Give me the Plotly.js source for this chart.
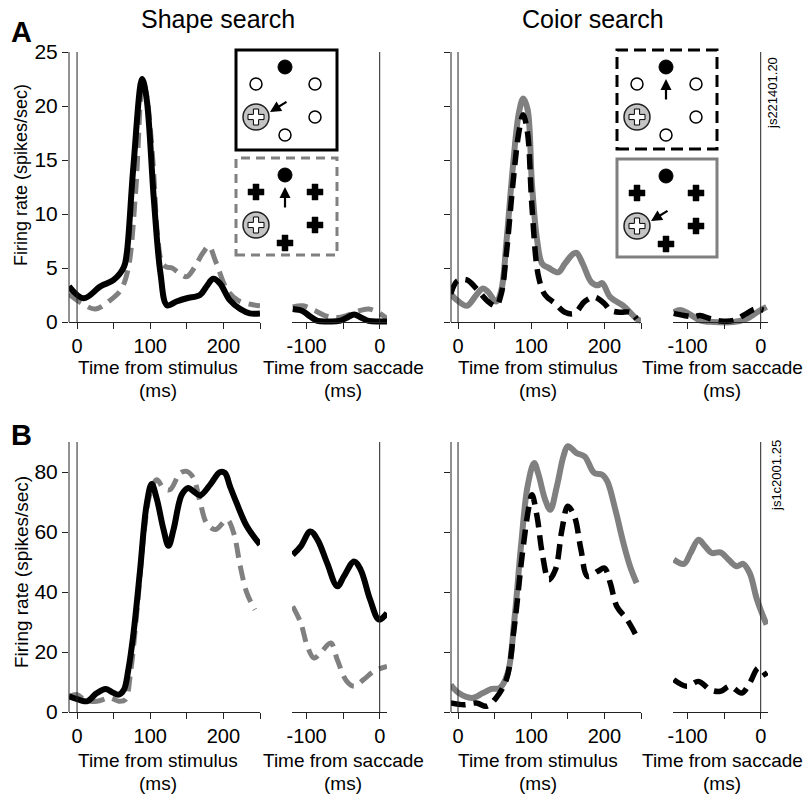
<!DOCTYPE html>
<html><head><meta charset="utf-8">
<script src="https://cdn.plot.ly/plotly-3.0.1.min.js"></script>
<style>body{margin:0;background:#fff} #chart{width:808px;height:796px}</style>
</head><body><div id="chart"></div>
<script>
// ---------------- DATA ----------------
// Row A, Shape search, aligned on stimulus
const aShapeStimT_solid = [-11, 9, 32, 50, 64, 68, 77, 89, 95, 105, 114, 123, 136, 150, 168, 177, 186, 195, 209, 223, 236, 250];
const aShapeStimV_solid = [3.3, 2.2, 3.3, 3.9, 5.1, 6.4, 14.4, 22.5, 20.7, 11.3, 4.5, 1.55, 1.9, 2.2, 2.5, 3.3, 4.0, 3.6, 2.0, 1.2, 0.8, 0.8];
const aShapeStimT_dash = [-11, 5, 25, 45, 60, 70, 80, 90, 95, 100, 105, 110, 116, 122, 130, 140, 150, 160, 172, 180, 190, 205, 220, 240, 250];
const aShapeStimV_dash = [2.6, 1.8, 1.2, 2.0, 3.0, 5.0, 12, 22.3, 21, 18, 13.5, 8, 5.5, 5.1, 5.0, 4.5, 4.2, 5.0, 6.4, 7.0, 5.5, 3.0, 2.0, 1.6, 1.5];
// Row A, Shape search, aligned on saccade
const aShapeSacT_solid = [-119, -105, -95, -85, -70, -55, -45, -35, -25, -15, 0, 10];
const aShapeSacV_solid = [1.2, 1.0, 0.5, 0.1, 0.05, 0.1, 0.4, 0.7, 0.4, 0.1, 0.05, 0.05];
const aShapeSacT_dash = [-119, -105, -90, -75, -60, -45, -30, -15, 0, 10];
const aShapeSacV_dash = [1.4, 1.5, 1.1, 0.6, 0.4, 0.6, 1.0, 1.2, 0.8, 0.3];
// Row A, Color search, aligned on stimulus
const aColorStimT_solid = [-10, -1, 12, 25, 34, 41, 52, 59, 66, 75, 83, 89, 95, 101, 108, 115, 124, 137, 146, 157, 162, 171, 182, 191, 197, 208, 226, 244, 250];
const aColorStimV_solid = [2.6, 2.0, 1.5, 2.5, 3.1, 2.8, 1.9, 2.9, 7.3, 14.4, 19.3, 20.7, 19.7, 12.8, 7.6, 5.4, 5.0, 4.6, 5.4, 6.3, 6.4, 5.3, 3.7, 3.4, 3.6, 2.3, 1.5, 0.3, 0.1];
const aColorStimT_dash = [-10, -1, 12, 25, 41, 52, 59, 66, 75, 83, 89, 95, 101, 110, 119, 133, 146, 159, 173, 186, 200, 208, 222, 235, 244];
const aColorStimV_dash = [2.6, 3.8, 3.9, 3.1, 1.9, 1.5, 2.6, 6.3, 12.8, 17.5, 19.2, 17.5, 10.7, 4.2, 2.5, 1.7, 0.9, 0.8, 1.9, 2.3, 1.7, 1.1, 0.9, 0.9, 0.3];
// Row A, Color search, aligned on saccade
const aColorSacT_solid = [-119, -110, -99, -83, -65, -37, -19, -5, 8];
const aColorSacV_solid = [0.9, 1.1, 0.8, 0.15, 0, 0, 0.3, 0.9, 1.4];
const aColorSacT_dash = [-119, -105, -92, -83, -69, -55, -37, -19, -8, 4];
const aColorSacV_dash = [0.8, 0.6, 0.5, 0.6, 0.3, 0.1, 0.15, 0.8, 1.2, 1.1];

// Row B, Shape search, aligned on stimulus
const bShapeStimT_solid = [-11, 5, 14, 27, 39, 48, 57, 64, 70, 77, 86, 95, 102, 109, 118, 125, 132, 143, 152, 159, 168, 182, 195, 202, 209, 218, 232, 250];
const bShapeStimV_solid = [5.2, 3.9, 3.6, 6.3, 7.7, 6.6, 5.8, 7.4, 14, 26, 47, 69, 76, 71, 61, 55.4, 61, 72.4, 74.7, 73.6, 72.2, 75.8, 79.9, 79.7, 75.2, 69.7, 61.9, 55.8];
const bShapeStimT_dash = [-11, 0, 11, 27, 45, 57, 66, 73, 82, 91, 100, 109, 118, 127, 141, 150, 159, 168, 177, 189, 205, 214, 223, 232, 243];
const bShapeStimV_dash = [5.2, 5.8, 3.9, 3.6, 4.7, 3.6, 4.1, 13, 34, 58.6, 73, 77.4, 74.7, 74.1, 79.7, 80.2, 78, 70.2, 63, 60.8, 64.1, 59.7, 48.6, 39.7, 34.1];
// Row B, Shape search, aligned on saccade
const bShapeSacT_solid = [-119, -108, -95, -85, -72, -58, -49, -35, -26, -13, -1, 10];
const bShapeSacV_solid = [52.4, 55.2, 60.2, 57.4, 49.7, 41.9, 45.2, 50.2, 47.4, 37.4, 30.8, 33];
const bShapeSacT_dash = [-119, -108, -99, -90, -81, -67, -58, -45, -35, -22, -8, 10];
const bShapeSacV_dash = [35.2, 29.7, 21.9, 18, 19.7, 23, 17.4, 10.2, 8.6, 10.8, 13.6, 15.2];
// Row B, Color search, aligned on stimulus
const bColorStimT_solid = [-10, 1, 19, 34, 46, 57, 68, 77, 86, 95, 104, 110, 119, 126, 135, 144, 150, 162, 173, 186, 197, 204, 215, 226, 235, 244];
const bColorStimV_solid = [9.1, 6.3, 4.7, 6.3, 7.7, 8, 13, 30.8, 55.2, 75.2, 83, 79.1, 70.8, 67.4, 75.2, 85.2, 88.6, 86.3, 85.2, 79.7, 79.1, 76.9, 67.4, 56.3, 48.6, 43];
const bColorStimT_dash = [-10, 8, 25, 39, 52, 66, 77, 88, 97, 101, 108, 115, 124, 133, 142, 150, 159, 168, 177, 191, 200, 208, 217, 231, 244];
const bColorStimV_dash = [3, 2.4, 3, 1.9, 4.7, 10.8, 28.6, 53, 68.6, 72.4, 65.2, 53, 44.1, 47.4, 60.8, 68.6, 65.2, 54.1, 45.2, 46.9, 48, 43, 35.2, 30.8, 25.2];
// Row B, Color search, aligned on saccade
const bColorSacT_solid = [-119, -105, -96, -85, -76, -67, -55, -44, -33, -24, -15, -5, 8];
const bColorSacV_solid = [50.8, 49.4, 53, 57.4, 55.2, 53, 53.2, 50.8, 48.6, 49.4, 46.3, 37.4, 29.1];
const bColorSacT_dash = [-119, -101, -85, -69, -55, -42, -26, -15, -3, 8];
const bColorSacV_dash = [10.8, 8.6, 10.2, 7.4, 6.9, 8.6, 6.3, 9.7, 14.7, 11.9];

// Tick labels
const stimTickVals = [0, 50, 100, 150, 200, 250];
const stimTickText = ['0', '', '100', '', '200', ''];
const sacTickVals = [-100, -50, 0];
const sacTickText = ['-100', '', '0'];
const rowATickVals = [0, 5, 10, 15, 20, 25];
const rowBTickVals = [0, 20, 40, 60, 80];
const panelTitles = ['Shape search', 'Coior search'];
const rowLabels = ['A', 'B'];
const cellIds = ['js221401.20', 'js1c2001.25'];
const yTitle = 'Firing rate (spikes/sec)';
const xTitleStim = 'Time from stimulus';
const xTitleSac = 'Time from saccade';
const xUnit = '(ms)';

// ---------------- LAYOUT HELPERS ----------------
const W = 808, H = 796;
const px = x => x / W;
const py = y => 1 - y / H;
const FONT = 'Arial, "Liberation Sans", sans-serif';
const GREY = '#808080';
const AX = '#222';

const cols = [
  {d: [69, 260], r: [-11, 250], tv: stimTickVals, tt: stimTickText},
  {d: [292, 387], r: [-120, 10], tv: sacTickVals, tt: sacTickText},
  {d: [451, 641], r: [-9.6, 250], tv: stimTickVals, tt: stimTickText},
  {d: [673, 768], r: [-120, 10], tv: sacTickVals, tt: sacTickText}
];
const rows = [
  {top: 52, zero: 322, max: 25, pxu: 10.8, tv: rowATickVals, ty: [367, 391]},
  {top: 442, zero: 712, max: 90, pxu: 3.0, tv: rowBTickVals, ty: [760, 783]}
];

const layout = {
  width: W, height: H,
  margin: {l: 0, r: 0, t: 0, b: 0},
  paper_bgcolor: '#fff', plot_bgcolor: 'rgba(0,0,0,0)',
  showlegend: false,
  font: {family: FONT, color: '#000'},
  shapes: [], annotations: []
};

const data = [];
function addTrace(n, t, v, kind) {
  const base = {x: t, y: v, xaxis: 'x' + (n === 1 ? '' : n), yaxis: 'y' + (n === 1 ? '' : n),
    mode: 'lines', hoverinfo: 'skip'};
  if (kind === 'blackSolid') base.line = {color: '#000', width: 6, shape: 'spline', smoothing: 1};
  if (kind === 'greyDash') base.line = {color: GREY, width: 5, shape: 'spline', smoothing: 1, dash: '15px,8px'};
  if (kind === 'greySolid') base.line = {color: GREY, width: 6, shape: 'spline', smoothing: 1};
  if (kind === 'blackDash') base.line = {color: '#000', width: 5.5, shape: 'spline', smoothing: 1, dash: '15px,8px'};
  data.push(base);
}

let n = 0;
rows.forEach((row, ri) => {
  const ext = 4; // pixels of plot area below zero so thick lines are not clipped
  const yr = [-ext / row.pxu, row.max];
  cols.forEach((col, ci) => {
    n++;
    const xk = 'xaxis' + (n === 1 ? '' : n);
    const yk = 'yaxis' + (n === 1 ? '' : n);
    const yid = 'y' + (n === 1 ? '' : n);
    const xid = 'x' + (n === 1 ? '' : n);
    layout[xk] = {
      domain: [px(col.d[0]), px(col.d[1])], range: col.r, anchor: 'free', position: py(row.zero),
      showline: true, linecolor: AX, linewidth: 1, ticks: 'outside', ticklen: 6, tickwidth: 1, tickcolor: AX,
      tickmode: 'array', tickvals: col.tv, ticktext: col.tt, tickfont: {size: 20, family: FONT, color: '#000'},
      showgrid: false, zeroline: false, fixedrange: true
    };
    const isStim = (ci % 2 === 0);
    layout[yk] = {
      domain: [py(row.zero + ext), py(row.top)], range: yr, anchor: xid,
      showline: false, showgrid: false, zeroline: false, fixedrange: true,
      ticks: isStim ? 'outside' : '', ticklen: 6, tickwidth: 1, tickcolor: AX,
      tickmode: 'array', tickvals: isStim ? row.tv : [], showticklabels: ci === 0,
      tickfont: {size: 21, family: FONT, color: '#000'}
    };
    if (isStim) {
      layout.shapes.push({type: 'line', xref: xid + ' domain', yref: yid, x0: 0, x1: 0, y0: 0, y1: row.max,
        line: {color: AX, width: 1}});
    }
    layout.shapes.push({type: 'line', xref: xid, yref: yid, x0: 0, x1: 0, y0: 0, y1: row.max,
      line: {color: AX, width: 1}});
    const cx = [158, 343, 538, 722][ci];
    layout.annotations.push({xref: 'paper', yref: 'paper', x: px(cx), y: py(row.ty[0]), xanchor: 'center', yanchor: 'middle',
      text: isStim ? xTitleStim : xTitleSac, showarrow: false, font: {size: 19, family: FONT, color: '#000'}});
    layout.annotations.push({xref: 'paper', yref: 'paper', x: px(cx), y: py(row.ty[1]), xanchor: 'center', yanchor: 'middle',
      text: xUnit, showarrow: false, font: {size: 19, family: FONT, color: '#000'}});
  });
});

// traces
addTrace(1, aShapeStimT_dash, aShapeStimV_dash, 'greyDash');
addTrace(1, aShapeStimT_solid, aShapeStimV_solid, 'blackSolid');
addTrace(2, aShapeSacT_dash, aShapeSacV_dash, 'greyDash');
addTrace(2, aShapeSacT_solid, aShapeSacV_solid, 'blackSolid');
addTrace(3, aColorStimT_solid, aColorStimV_solid, 'greySolid');
addTrace(3, aColorStimT_dash, aColorStimV_dash, 'blackDash');
addTrace(4, aColorSacT_solid, aColorSacV_solid, 'greySolid');
addTrace(4, aColorSacT_dash, aColorSacV_dash, 'blackDash');
addTrace(5, bShapeStimT_dash, bShapeStimV_dash, 'greyDash');
addTrace(5, bShapeStimT_solid, bShapeStimV_solid, 'blackSolid');
addTrace(6, bShapeSacT_dash, bShapeSacV_dash, 'greyDash');
addTrace(6, bShapeSacT_solid, bShapeSacV_solid, 'blackSolid');
addTrace(7, bColorStimT_solid, bColorStimV_solid, 'greySolid');
addTrace(7, bColorStimT_dash, bColorStimV_dash, 'blackDash');
addTrace(8, bColorSacT_solid, bColorSacV_solid, 'greySolid');
addTrace(8, bColorSacT_dash, bColorSacV_dash, 'blackDash');

// titles and labels
const ann = layout.annotations;
ann.push({xref: 'paper', yref: 'paper', x: px(218), y: py(19), text: panelTitles[0], showarrow: false,
  xanchor: 'center', yanchor: 'middle', font: {size: 25, family: FONT, color: '#000'}});
ann.push({xref: 'paper', yref: 'paper', x: px(593), y: py(19), text: panelTitles[1], showarrow: false,
  xanchor: 'center', yanchor: 'middle', font: {size: 25, family: FONT, color: '#000'}});
ann.push({xref: 'paper', yref: 'paper', x: px(21), y: py(32), text: '<b>' + rowLabels[0] + '</b>', showarrow: false,
  xanchor: 'center', yanchor: 'middle', font: {size: 29, family: FONT, color: '#000'}});
ann.push({xref: 'paper', yref: 'paper', x: px(21), y: py(435), text: '<b>' + rowLabels[1] + '</b>', showarrow: false,
  xanchor: 'center', yanchor: 'middle', font: {size: 29, family: FONT, color: '#000'}});
ann.push({xref: 'paper', yref: 'paper', x: px(21), y: py(175), text: yTitle, textangle: -90, showarrow: false,
  xanchor: 'center', yanchor: 'middle', font: {size: 18, family: FONT, color: '#000'}});
ann.push({xref: 'paper', yref: 'paper', x: px(21), y: py(572), text: yTitle, textangle: -90, showarrow: false,
  xanchor: 'center', yanchor: 'middle', font: {size: 19, family: FONT, color: '#000'}});
ann.push({xref: 'paper', yref: 'paper', x: px(772), y: py(93), text: cellIds[0], textangle: -90, showarrow: false,
  xanchor: 'center', yanchor: 'middle', font: {size: 13, family: FONT, color: '#000'}});
ann.push({xref: 'paper', yref: 'paper', x: px(776), y: py(476), text: cellIds[1], textangle: -90, showarrow: false,
  xanchor: 'center', yanchor: 'middle', font: {size: 13, family: FONT, color: '#000'}});

// ---------------- INSET DIAGRAMS ----------------
function circ(cx, cy, r, fill, lc, lw) {
  layout.shapes.push({type: 'circle', xref: 'paper', yref: 'paper', layer: 'above',
    x0: px(cx - r), x1: px(cx + r), y0: py(cy + r), y1: py(cy - r),
    fillcolor: fill, line: {color: lc, width: lw}});
}
function cross(cx, cy, L, w, fill, lc, lw) {
  const pts = [[-w,-L],[w,-L],[w,-w],[L,-w],[L,w],[w,w],[w,L],[-w,L],[-w,w],[-L,w],[-L,-w],[-w,-w]];
  const p = 'M' + pts.map(q => px(cx + q[0]) + ',' + py(cy + q[1])).join('L') + 'Z';
  layout.shapes.push({type: 'path', xref: 'paper', yref: 'paper', layer: 'above', path: p,
    fillcolor: fill, line: {color: lc, width: lw}});
}
function arrow(x0, y0, x1, y1) {
  ann.push({xref: 'paper', yref: 'paper', x: px(x1), y: py(y1), ax: x0 - x1, ay: y0 - y1,
    axref: 'pixel', ayref: 'pixel', text: '', showarrow: true, arrowhead: 2, arrowsize: 1,
    arrowwidth: 2.2, arrowcolor: '#000'});
}
function inset(bx, by, w, h, borderColor, dash, kind, arrowKind) {
  layout.shapes.push({type: 'rect', xref: 'paper', yref: 'paper', layer: 'above',
    x0: px(bx), x1: px(bx + w), y0: py(by + h), y1: py(by),
    fillcolor: 'rgba(255,255,255,0)', line: {color: borderColor, width: 3, dash: dash}});
  const rel = [[20, 34], [79, 34], [79, 67], [49, 85]];
  circ(bx + 49, by + 17, 7, '#000', '#000', 1);
  rel.forEach(q => {
    if (kind === 'circles') circ(bx + q[0], by + q[1], 6, '#fff', '#000', 1.5);
    else cross(bx + q[0], by + q[1], 8, 3, '#000', '#000', 0.5);
  });
  circ(bx + 20, by + 67, 13, '#c4c4c4', '#222', 1.5);
  cross(bx + 20, by + 67, 8, 2.6, '#fff', '#000', 1);
  if (arrowKind === 'diag') arrow(bx + 52, by + 51, bx + 34, by + 62);
  else arrow(bx + 49, by + 51, bx + 49, by + 29);
}
inset(236, 50, 101, 100, '#000', 'solid', 'circles', 'diag');
inset(236, 158, 101, 97, GREY, '9px,6px', 'crosses', 'up');
inset(617, 50, 100, 99, '#000', '12px,6px', 'circles', 'up');
inset(617, 159, 100, 98, GREY, 'solid', 'crosses', 'diag');

Plotly.newPlot('chart', data, layout, {staticPlot: true, displayModeBar: false});
</script></body></html>
